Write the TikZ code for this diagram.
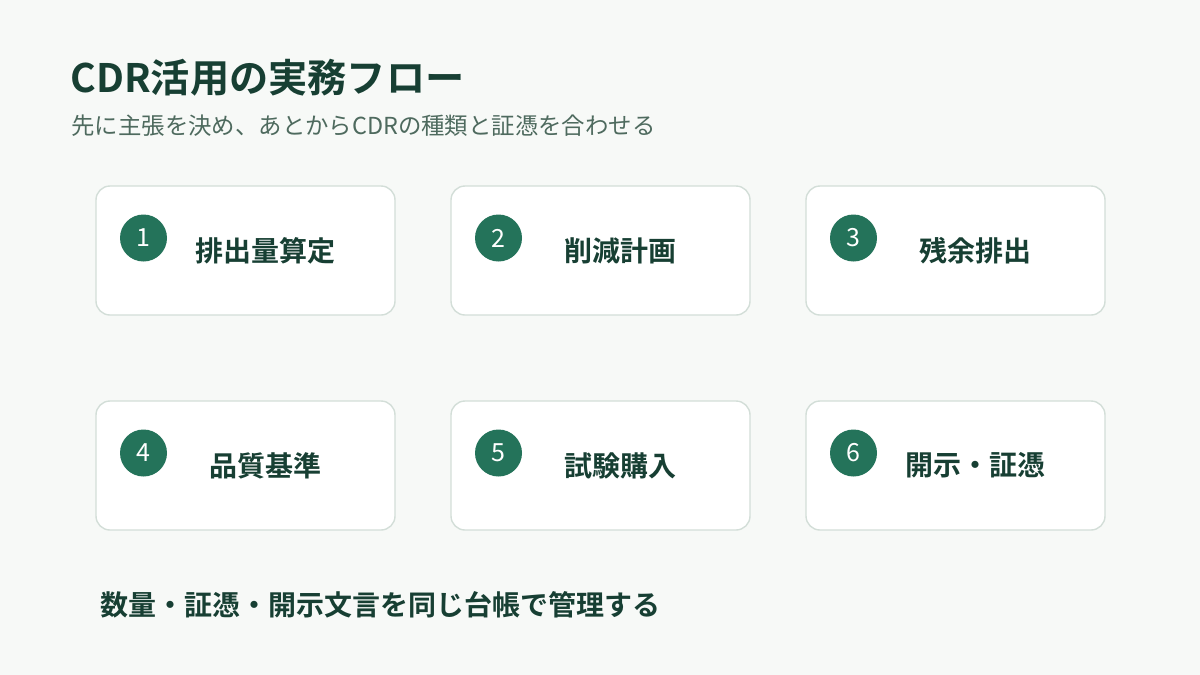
\documentclass[tikz,border=0pt]{standalone}
\usepackage{fontspec}
\setmainfont{Noto Sans CJK JP}[BoldFont={Noto Sans CJK JP Bold}]
\usetikzlibrary{positioning}
\definecolor{pagebg}{HTML}{F7F9F7}
\definecolor{inkdark}{HTML}{173F33}
\definecolor{inkgrey}{HTML}{4E6A5E}
\definecolor{cardline}{HTML}{D3DED8}
\definecolor{badge}{HTML}{24735A}
\tikzset{
  card/.style={draw=cardline, line width=0.7pt, fill=white, rounded corners=7pt,
    minimum width=149.5pt, minimum height=64.5pt, inner sep=0pt},
  badgenum/.style={circle, fill=badge, minimum size=23.5pt, inner sep=0pt,
    text=white, font=\fontsize{12.5}{12.5}\selectfont},
  steplabel/.style={text=inkdark, font=\bfseries\fontsize{14}{14}\selectfont, inner sep=0pt},
}
\begin{document}
\begin{tikzpicture}[x=0.5pt, y=-0.5pt]
\useasboundingbox[fill=pagebg] (0,0) rectangle (1200,675);
% heading
\node[anchor=west, inner sep=0pt, text=inkdark, font=\bfseries\fontsize{19.6}{19.6}\selectfont] (title) at (70,78) {CDR活用の実務フロー};
\node[anchor=west, inner sep=0pt, text=inkgrey, font=\fontsize{11.7}{11.7}\selectfont] (subtitle) at (71,126) {先に主張を決め、あとからCDRの種類と証憑を合わせる};
% steps
\foreach \i/\x/\y/\txt in {1/245.5/250.5/排出量算定, 2/600.5/250.5/削減計画, 3/955.5/250.5/残余排出,
                          4/245.5/465.5/品質基準, 5/600.5/465.5/試験購入, 6/955.5/465.5/開示・証憑}{
  \node[card] (step\i) at (\x,\y) {};
  \node[badgenum] (num\i) at ([xshift=-51pt, yshift=6.25pt]step\i.center) {\i};
  \node[steplabel] (label\i) at ([xshift=10pt]step\i.center) {\txt};
}
% footer
\node[anchor=west, inner sep=0pt, text=inkdark, font=\bfseries\fontsize{14}{14}\selectfont] (footer) at (100,605) {数量・証憑・開示文言を同じ台帳で管理する};
\end{tikzpicture}
\end{document}
